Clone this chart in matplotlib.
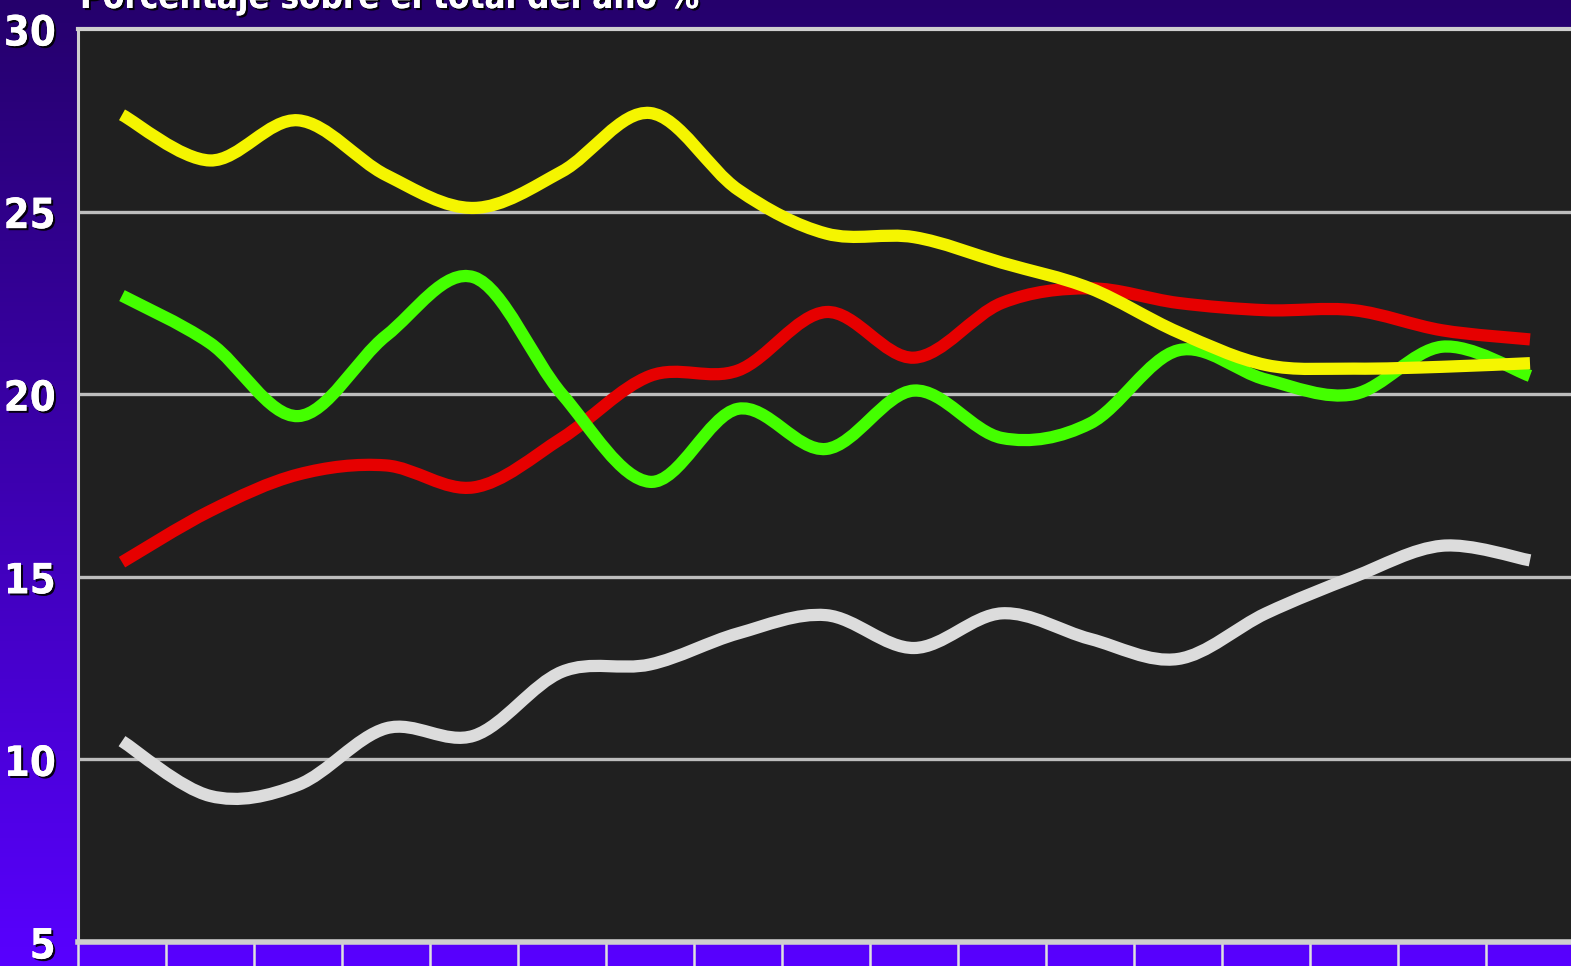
import numpy as np
import matplotlib
matplotlib.use("Agg")
import matplotlib.pyplot as plt
from matplotlib.path import Path
from matplotlib.patches import PathPatch
from matplotlib.colors import LinearSegmentedColormap
import matplotlib.patheffects as pe

# values (17 periods, % of yearly total)
periods = list(range(17))
yellow = [27.65, 26.4, 27.5, 26.0, 25.1, 26.1, 27.7, 25.6, 24.4, 24.3, 23.6, 22.9, 21.7, 20.8, 20.7, 20.75, 20.85]
green = [22.7, 21.4, 19.4, 21.6, 23.2, 20.0, 17.6, 19.6, 18.5, 20.1, 18.8, 19.2, 21.2, 20.4, 20.0, 21.3, 20.5]
red = [15.4, 16.8, 17.8, 18.05, 17.45, 18.8, 20.5, 20.65, 22.25, 21.0, 22.5, 22.9, 22.5, 22.3, 22.3, 21.75, 21.5]
grey = [10.5, 9.0, 9.3, 10.85, 10.65, 12.4, 12.6, 13.45, 13.95, 13.05, 14.0, 13.3, 12.75, 14.0, 15.0, 15.85, 15.45]
yticks = [5, 10, 15, 20, 25, 30]
title = "Porcentaje sobre el total del año %"

W, H = 1571, 966


def smooth_path(xs, ys):
    # Catmull-Rom spline through the points, as cubic Bezier pieces
    pts = np.column_stack([xs, ys]).astype(float)
    ext = np.vstack([pts[0], pts, pts[-1]])
    verts = [pts[0]]
    codes = [Path.MOVETO]
    for i in range(len(pts) - 1):
        p0, p1, p2, p3 = ext[i], ext[i + 1], ext[i + 2], ext[i + 3]
        verts += [p1 + (p2 - p0) / 6, p2 - (p3 - p1) / 6, p2]
        codes += [Path.CURVE4] * 3
    return Path(verts, codes)


fig = plt.figure(figsize=(W / 100, H / 100), dpi=100)

# purple background gradient
bg = fig.add_axes([0, 0, 1, 1], zorder=-10)
cmap = LinearSegmentedColormap.from_list("bg", ["#25006c", "#3d00b0", "#5800ff"])
bg.imshow(np.linspace(0, 1, 256)[:, None], aspect="auto", cmap=cmap, extent=[0, 1, 0, 1])
bg.axis("off")

left = 78 / W
bottom = (H - 942) / H
top = 1 - 29 / H
ax = fig.add_axes([left, bottom, 1496 / W, top - bottom])
ax.set_facecolor("#202020")
ax.set_xlim(-0.5, 16.5)
ax.set_ylim(5, 30)

for yv in yticks[1:-1]:
    ax.axhline(yv, color="#bdbdbd", lw=2.4, zorder=1)

series = [(grey, "#dcdcdc"), (red, "#e60000"), (green, "#44ff00"), (yellow, "#f5f500")]
for vals, col in series:
    ax.add_patch(PathPatch(smooth_path(periods, vals), fill=False, edgecolor=col,
                           lw=8.8, capstyle="butt", joinstyle="round", zorder=3))

for side in ["left", "top", "bottom"]:
    ax.spines[side].set_color("#cfcfcf")
ax.spines["left"].set_linewidth(2.2)
ax.spines["top"].set_linewidth(3)
ax.spines["bottom"].set_linewidth(4)
ax.spines["right"].set_visible(False)

ax.set_xticks(np.arange(-0.5, 17, 1))
ax.set_xticklabels([])
ax.tick_params(axis="x", length=30, width=1.8, color="#e0e0e0", direction="out")

ax.set_yticks(yticks)
ax.set_yticklabels([str(v) for v in yticks])
ax.tick_params(axis="y", length=0, pad=16)
shadow = [pe.withSimplePatchShadow(offset=(1.5, -1.5), shadow_rgbFace="black", alpha=0.9), pe.Normal()]
for lab in ax.get_yticklabels():
    lab.set_family("DejaVu Sans")
    lab.set_fontstretch("condensed")
    lab.set_fontweight("bold")
    lab.set_fontsize(30)
    lab.set_color("white")
    lab.set_path_effects(shadow)

fig.text(80 / W, 1 - 8 / H, title, family="DejaVu Sans", fontstretch="condensed",
         fontweight="bold", fontsize=25, color="white", va="baseline", ha="left",
         path_effects=shadow)

fig.savefig("out.png", dpi=100)
